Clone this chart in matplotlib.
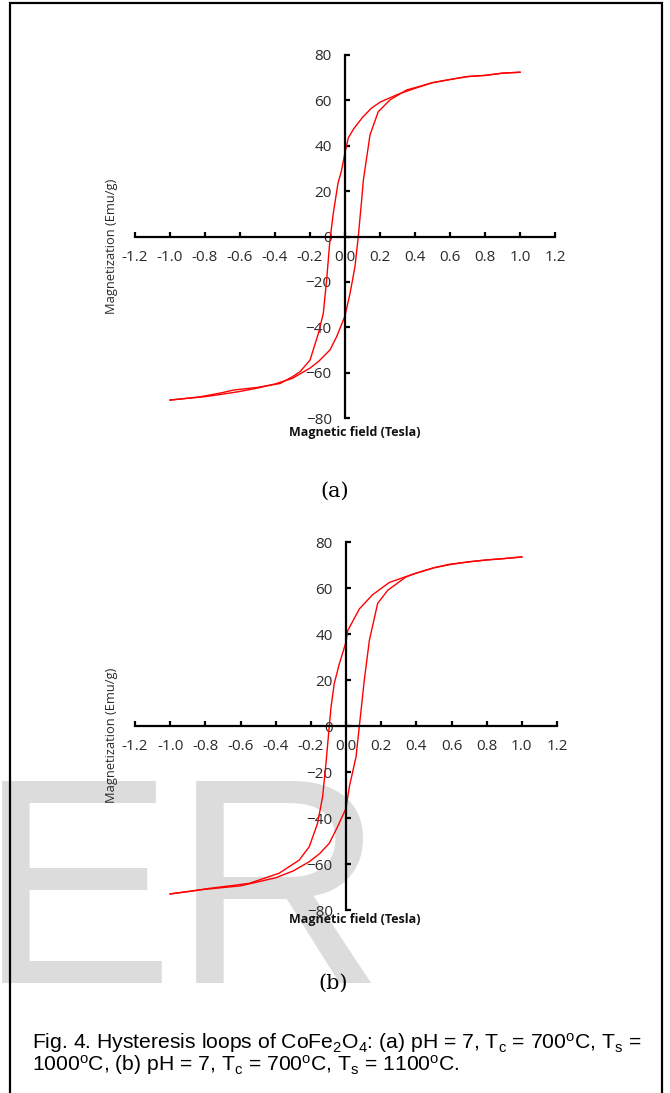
import matplotlib
matplotlib.use("Agg")
import matplotlib.pyplot as plt
from matplotlib.ticker import FormatStrFormatter
from matplotlib.patches import Rectangle

plt.rcParams['mathtext.fontset'] = 'custom'
plt.rcParams['mathtext.rm'] = 'Liberation Sans'
plt.rcParams['mathtext.it'] = 'Liberation Sans:italic'

# (a) Ts = 1000 C  -- branch coming down from +1 T, branch going up from -1 T
down_a_H = [1.0, 0.9, 0.8, 0.7, 0.6, 0.5, 0.4, 0.3, 0.2, 0.15, 0.1, 0.05, 0.019, 0.0,
            -0.02, -0.04, -0.067, -0.08, -0.086, -0.105, -0.124, -0.152, -0.2,
            -0.257, -0.3, -0.371, -0.5, -0.638, -0.7, -0.83, -0.9, -1.0]
down_a_M = [72.4, 72.0, 71.0, 70.5, 69.2, 67.8, 65.3, 62.6, 59.2, 56.5, 52.5, 47.5, 43.5, 37.0,
            29.0, 23.5, 10.2, 2.0, -1.5, -19.2, -33.9, -42.7, -54.5,
            -59.6, -61.8, -64.8, -66.5, -67.7, -68.8, -70.7, -71.3, -72.1]
up_a_H = [-1.0, -0.9, -0.8, -0.7, -0.6, -0.5, -0.4, -0.3, -0.2, -0.15, -0.086,
          -0.048, 0.0, 0.029, 0.057, 0.076, 0.095, 0.105, 0.143, 0.19, 0.257,
          0.352, 0.4, 0.5, 0.6, 0.7, 0.8, 0.9, 1.0]
up_a_M = [-72.1, -71.3, -70.6, -69.5, -68.3, -66.8, -65.0, -62.5, -58.0, -55.0, -50.0,
          -44.2, -35.0, -25.0, -13.3, 0.0, 16.0, 24.9, 44.8, 55.0, 60.2,
          64.6, 65.6, 67.8, 69.2, 70.5, 71.0, 72.0, 72.4]

# (b) Ts = 1100 C
down_b_H = [1.0, 0.9, 0.8, 0.7, 0.588, 0.5, 0.38, 0.246, 0.15, 0.076, 0.01, 0.0,
            -0.038, -0.067, -0.085, -0.095, -0.114, -0.133, -0.162, -0.209,
            -0.266, -0.38, -0.55, -0.65, -0.778, -0.9, -1.0]
down_b_M = [73.5, 72.8, 72.2, 71.4, 70.3, 68.8, 66.0, 62.4, 57.0, 50.9, 41.5, 36.5,
            27.0, 18.4, 8.3, 0.0, -16.3, -30.8, -42.4, -52.5,
            -58.3, -64.0, -68.4, -69.4, -70.6, -72.0, -73.0]
up_b_H = [-1.0, -0.9, -0.8, -0.6, -0.4, -0.3, -0.209, -0.15, -0.095, -0.048, 0.0,
          0.019, 0.057, 0.076, 0.104, 0.133, 0.18, 0.237, 0.341, 0.4, 0.5, 0.6,
          0.7, 0.8, 0.9, 1.0]
up_b_M = [-73.0, -72.0, -71.0, -69.5, -66.0, -63.0, -59.0, -55.5, -51.0, -43.8, -35.8,
          -26.4, -13.4, 0.0, 19.9, 37.3, 53.3, 59.0, 64.8, 66.5, 68.8, 70.3,
          71.4, 72.2, 72.8, 73.5]

x_ticks = [-1.2, -1.0, -0.8, -0.6, -0.4, -0.2, 0.0, 0.2, 0.4, 0.6, 0.8, 1.0, 1.2]
y_ticks = [-80, -60, -40, -20, 0, 20, 40, 60, 80]

W, H = 670, 1093
fig = plt.figure(figsize=(W / 100, H / 100), dpi=100)


def setup(ax):
    ax.set_facecolor('none')
    ax.set_xlim(-1.2, 1.2)
    ax.set_ylim(-80, 80)
    ax.set_xticks(x_ticks)
    ax.set_yticks(y_ticks)
    ax.xaxis.set_major_formatter(FormatStrFormatter('%.1f'))
    for s in ['top', 'right']:
        ax.spines[s].set_visible(False)
    ax.spines['left'].set_position(('data', 0))
    ax.spines['bottom'].set_position(('data', 0))
    for s in ['left', 'bottom']:
        ax.spines[s].set_linewidth(1.6)
    ax.tick_params(direction='in', length=3.5, width=1.6, pad=9.5,
                   labelsize=11, labelcolor='#2a2a2a')
    for lab in ax.get_xticklabels() + ax.get_yticklabels():
        lab.set_fontfamily('Open Sans')


def box(px_left, px_top, px_right, px_bottom):
    return [px_left / W, 1 - px_bottom / H, (px_right - px_left) / W,
            (px_bottom - px_top) / H]


ax1 = fig.add_axes(box(135, 55, 555, 418))
setup(ax1)
ax1.plot(down_a_H, down_a_M, color='red', lw=1.0)
ax1.plot(up_a_H, up_a_M, color='red', lw=1.0)

ax2 = fig.add_axes(box(135, 542, 557, 910))
setup(ax2)
ax2.plot(down_b_H, down_b_M, color='red', lw=1.0)
ax2.plot(up_b_H, up_b_M, color='red', lw=1.0)

for yc, yx in [(246, 432), (735, 920)]:
    fig.text(112 / W, 1 - yc / H, 'Magnetization (Emu/g)', rotation=90,
             ha='center', va='center', fontsize=9.3, family='Open Sans',
             color='#2a2a2a')
    fig.text(355 / W, 1 - yx / H, 'Magnetic field (Tesla)', ha='center',
             va='center', fontsize=9.0, family='Open Sans', weight='bold',
             color='#111111')

fig.text(335 / W, 1 - 491 / H, '(a)', ha='center', va='center', fontsize=15,
         family='DejaVu Serif')
fig.text(333 / W, 1 - 983 / H, '(b)', ha='center', va='center', fontsize=15,
         family='DejaVu Serif')

# watermark
fig.text(-22 / W, 1 - 983 / H, 'E', ha='left', va='baseline', fontsize=212,
         family='Liberation Sans', color='#dcdcdc', zorder=-5)
fig.text(172 / W, 1 - 983 / H, 'R', ha='left', va='baseline', fontsize=212,
         family='Liberation Sans', color='#dcdcdc', zorder=-5)

# caption
fig.text(32 / W, 1 - 1043 / H,
         r'Fig. 4. Hysteresis loops of CoFe$_2$O$_4$: (a) pH = 7, T$_\mathrm{c}$ = 700$^\mathrm{o}$C, T$_\mathrm{s}$ =',
         ha='left', va='center', fontsize=15.2, family='Liberation Sans')
fig.text(32 / W, 1 - 1065 / H,
         r'1000$^\mathrm{o}$C, (b) pH = 7, T$_\mathrm{c}$ = 700$^\mathrm{o}$C, T$_\mathrm{s}$ = 1100$^\mathrm{o}$C.',
         ha='left', va='center', fontsize=15.2, family='Liberation Sans')

fig.add_artist(Rectangle((10 / W, -0.05), 652 / W, 1.05 - 3 / H,
                         transform=fig.transFigure, fill=False, lw=1.6,
                         edgecolor='black'))

fig.savefig('out.png', dpi=100)
